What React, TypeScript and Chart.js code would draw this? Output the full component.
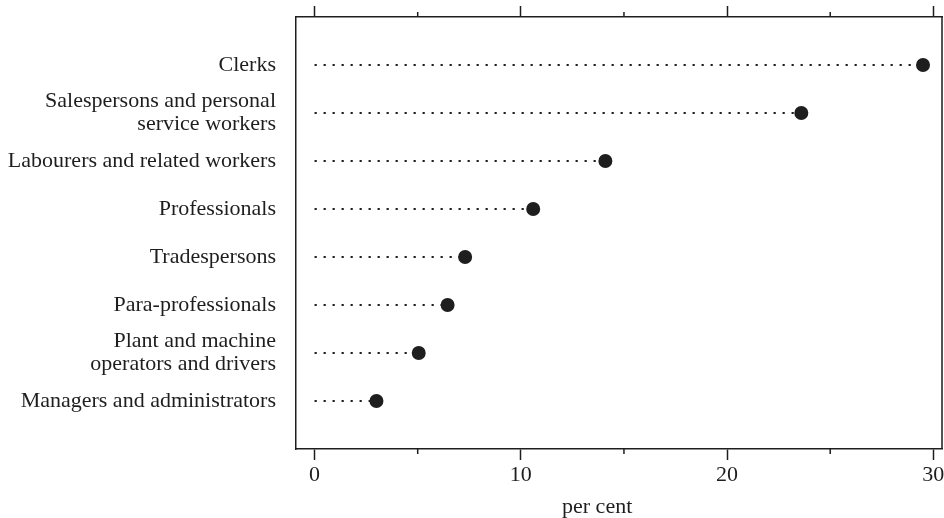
import React, { useEffect, useRef } from "react";
import { Chart, registerables } from "chart.js";

Chart.register(...registerables);

const categories: string[] = [
  "Clerks",
  "Salespersons and personal\nservice workers",
  "Labourers and related workers",
  "Professionals",
  "Tradespersons",
  "Para-professionals",
  "Plant and machine\noperators and drivers",
  "Managers and administrators",
];

const values: number[] = [29.5, 23.6, 14.1, 10.6, 7.3, 6.45, 5.05, 3.0];

const majorTicks: number[] = [0, 10, 20, 30];
const minorTicks: number[] = [5, 15, 25];
const xTitle = "per cent";

const INK = "#1e1e1e";
const FONT = "'Liberation Serif', 'DejaVu Serif', serif";

const frameAndMinor = {
  id: "frameAndMinor",
  afterDraw(chart: any) {
    const { ctx, chartArea } = chart;
    const x = chart.scales.x;
    ctx.save();
    ctx.strokeStyle = INK;
    ctx.lineWidth = 1.5;
    ctx.beginPath();
    ctx.moveTo(chartArea.right, chartArea.top);
    ctx.lineTo(chartArea.right, chartArea.bottom);
    for (const v of minorTicks) {
      const px = x.getPixelForValue(v);
      ctx.moveTo(px, chartArea.top);
      ctx.lineTo(px, chartArea.top - 5);
      ctx.moveTo(px, chartArea.bottom);
      ctx.lineTo(px, chartArea.bottom + 5);
    }
    ctx.stroke();
    // axis title
    ctx.fillStyle = INK;
    ctx.font = `22px ${FONT}`;
    ctx.textAlign = "center";
    ctx.textBaseline = "middle";
    ctx.fillText(xTitle, x.getPixelForValue(13.7), 507);
    ctx.restore();
  },
};

export default function App() {
  const ref = useRef<HTMLCanvasElement | null>(null);

  useEffect(() => {
    document.body.style.margin = "0";
    if (!ref.current) return;

    const lineSets = categories.map((c, i) => ({
      type: "line" as const,
      label: c,
      data: [
        { x: 0, y: i },
        { x: values[i], y: i },
      ],
      showLine: true,
      borderColor: INK,
      borderWidth: 2,
      borderDash: [2.2, 6.8],
      pointRadius: 0,
      pointHoverRadius: 0,
      fill: false,
    }));

    const dotSet = {
      type: "scatter" as const,
      label: "dots",
      data: values.map((v, i) => ({ x: v, y: i })),
      pointRadius: 7,
      pointHoverRadius: 7,
      backgroundColor: INK,
      borderColor: INK,
      borderWidth: 0,
    };

    const xCommon = {
      type: "linear" as const,
      min: -0.9,
      max: 30.42,
      afterBuildTicks: (s: any) => {
        s.ticks = majorTicks.map((v) => ({ value: v }));
      },
    };

    const chart = new Chart(ref.current, {
      type: "scatter",
      data: { datasets: [...lineSets, dotSet] as any },
      options: {
        animation: false,
        responsive: false,
        layout: { autoPadding: false, padding: { left: 0, right: 2, top: 0, bottom: 0 } },
        plugins: {
          legend: { display: false },
          tooltip: { enabled: false },
        },
        scales: {
          x: {
            ...xCommon,
            position: "bottom",
            border: { display: true, color: INK, width: 1.5 },
            grid: {
              drawOnChartArea: false,
              drawTicks: true,
              tickLength: 11,
              tickColor: INK,
              tickWidth: 1.5,
            },
            ticks: {
              color: INK,
              font: { family: FONT, size: 22 },
              padding: 2,
              maxRotation: 0,
            },
            afterFit: (s: any) => {
              s.height = 69;
              s.paddingLeft = 0;
              s.paddingRight = 0;
            },
          },
          xTop: {
            ...xCommon,
            position: "top",
            border: { display: true, color: INK, width: 1.5 },
            grid: {
              drawOnChartArea: false,
              drawTicks: true,
              tickLength: 11,
              tickColor: INK,
              tickWidth: 1.5,
            },
            ticks: { display: false },
            afterFit: (s: any) => {
              s.height = 17;
              s.paddingLeft = 0;
              s.paddingRight = 0;
            },
          },
          y: {
            type: "linear",
            min: -1,
            max: 8,
            reverse: true,
            position: "left",
            border: { display: true, color: INK, width: 1.5 },
            grid: { display: false, drawTicks: false },
            afterBuildTicks: (s: any) => {
              s.ticks = categories.map((_, i) => ({ value: i }));
            },
            ticks: {
              color: INK,
              font: { family: FONT, size: 22, lineHeight: 1.04 },
              padding: 20,
              callback: (v: any) => {
                const c = categories[Number(v)];
                return c ? c.split("\n") : "";
              },
            },
            afterFit: (s: any) => {
              s.width = 296;
              s.paddingTop = 0;
              s.paddingBottom = 0;
            },
          },
        },
      },
      plugins: [frameAndMinor],
    });

    return () => chart.destroy();
  }, []);

  return (
    <div style={{ width: 944, height: 518, background: "#fff" }}>
      <canvas ref={ref} width={944} height={518} style={{ width: 944, height: 518, display: "block" }} />
    </div>
  );
}
